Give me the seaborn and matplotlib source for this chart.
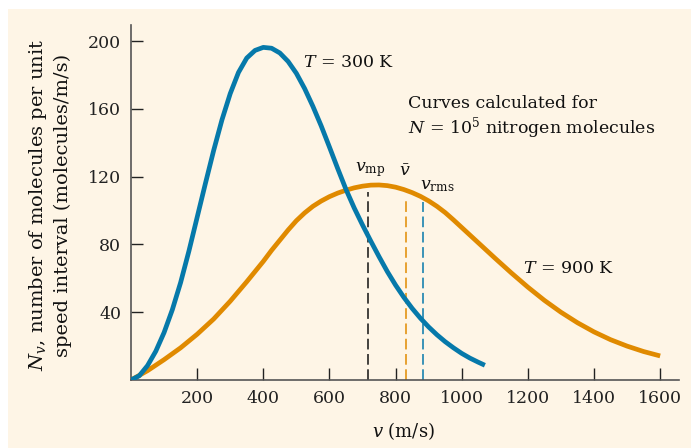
import matplotlib
matplotlib.use("Agg")
import matplotlib.pyplot as plt
import seaborn as sns
import pandas as pd
from matplotlib.patches import Rectangle

# ---- data ----
speed_300 = [0, 25, 50, 75, 100, 125, 150, 175, 200, 225, 250, 275, 300, 325,
             350, 375, 400, 425, 450, 475, 500, 525, 550, 575, 600, 625, 650,
             675, 700, 725, 750, 775, 800, 825, 850, 875, 900, 925, 950, 975,
             1000, 1025, 1050, 1070]
count_300 = [0, 2.5, 8.5, 17, 28, 41.5, 57.5, 76, 96, 116, 135.5, 153.5, 169, 181.5,
             190, 194.5, 196.3, 195.8, 193, 188, 181, 172, 161.5, 150, 137.5, 124.8, 112.5,
             101.5, 91.5, 82, 72.8, 64, 56, 48.8, 42.3, 36.5, 31.3, 26.7, 22.6, 19,
             15.7, 12.9, 10.5, 8.7]

speed_900 = [0, 50, 100, 150, 200, 250, 300, 350, 400, 425, 450, 475, 500, 525,
             550, 575, 600, 625, 650, 675, 700, 725, 750, 775, 800, 825, 850,
             875, 900, 925, 950, 975, 1000, 1050, 1100, 1150, 1200, 1250,
             1300, 1350, 1400, 1450, 1500, 1550, 1600]
count_900 = [0, 5.5, 12, 19, 27, 36, 46.5, 58, 70, 76.5, 82.5, 88.5, 94, 98.6,
             102.5, 105.6, 108.2, 110.3, 112, 113.4, 114.4, 115, 115.1, 114.7, 113.8,
             112.4, 110.6, 108.4, 105.7, 102.5, 98.8, 94.5, 90, 81, 72, 63.2,
             54.8, 47, 40, 33.8, 28.4, 23.8, 20, 16.8, 14.2]

marker_labels = [r"$v_{\mathrm{mp}}$", r"$\bar{v}$", r"$v_{\mathrm{rms}}$"]
marker_speeds = [718, 831, 884]
marker_tops = [111, 108, 105]

x_ticks = [200, 400, 600, 800, 1000, 1200, 1400, 1600]
y_ticks = [40, 80, 120, 160, 200]

BLUE = "#0679aa"
ORANGE = "#e08a00"
CREAM = "#fef5e6"
marker_colors = ["#111111", ORANGE, BLUE]

sns.set_theme(style="ticks")
plt.rcParams["font.family"] = ["DejaVu Serif"]
plt.rcParams["mathtext.fontset"] = "dejavuserif"

fig = plt.figure(figsize=(6.91, 4.48), dpi=100)
fig.patch.set_facecolor("white")
fig.patches.append(Rectangle((8 / 691, 0), 1, (448 - 9) / 448, transform=fig.transFigure,
                             facecolor=CREAM, edgecolor="none", zorder=-10))
ax = fig.add_axes([131 / 691, 68 / 448, 548 / 691, 355 / 448])
ax.set_facecolor("none")

# dashed marker lines
for sp, top, col in zip(marker_speeds, marker_tops, marker_colors):
    ax.plot([sp, sp], [0, top], color=col, lw=1.1, dashes=(7, 3), zorder=1)

df300 = pd.DataFrame({"v": speed_300, "N": count_300})
df900 = pd.DataFrame({"v": speed_900, "N": count_900})
sns.lineplot(data=df300, x="v", y="N", ax=ax, color=BLUE, lw=3.4, sort=False,
             estimator=None, zorder=3)
sns.lineplot(data=df900, x="v", y="N", ax=ax, color=ORANGE, lw=3.4, sort=False,
             estimator=None, zorder=2)
for ln in ax.get_lines():
    ln.set_solid_joinstyle("round")
    ln.set_solid_capstyle("butt")

ax.set_xlim(0, 1657)
ax.set_ylim(0, 209.5)
ax.set_xticks(x_ticks)
ax.set_yticks(y_ticks)
ax.tick_params(direction="in", length=8.5, width=1.0, colors="#222222",
               labelsize=12.5, pad=7)
for s in ["top", "right"]:
    ax.spines[s].set_visible(False)
for s in ["left", "bottom"]:
    ax.spines[s].set_color("#555555")
    ax.spines[s].set_linewidth(1.2)

ax.set_xlabel(r"$v$ (m/s)", fontsize=13, color="#111111")
ax.xaxis.set_label_coords(0.498, -0.112)
ax.set_ylabel("$N_v$, number of molecules per unit\nspeed interval (molecules/m/s)",
              fontsize=14, color="#111111", linespacing=1.3)
ax.yaxis.set_label_coords(-0.108, 0.493)

txt = dict(fontsize=12.5, color="#111111")
ax.text(520, 187.6, r"$T$ = 300 K", ha="left", va="center", **txt)
ax.text(1185, 66, r"$T$ = 900 K", ha="left", va="center", **txt)
ax.text(838, 163.4, "Curves calculated for", ha="left", va="center", **txt)
ax.text(838, 148.7, r"$N$ = 10$^5$ nitrogen molecules", ha="left", va="center", **txt)
ax.text(723, 124, marker_labels[0], ha="center", va="center", **txt)
ax.text(828, 123, marker_labels[1], ha="center", va="center", **txt)
ax.text(874, 114.5, marker_labels[2], ha="left", va="center", **txt)

fig.savefig("out.png", dpi=100)
